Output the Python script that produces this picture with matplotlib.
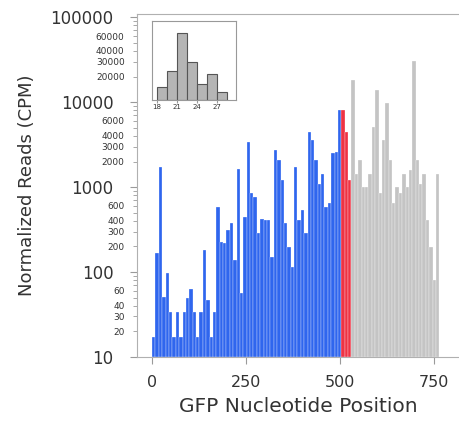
import matplotlib
matplotlib.use("Agg")
import matplotlib.pyplot as plt
import numpy as np
from matplotlib.ticker import LogLocator, FuncFormatter

# coverage along GFP, one value per 9-nt bin (CPM)
bin_nt = 9
blue_cpm = [17, 166, 1730, 51, 97, 34, 17, 34, 17, 34,
            49, 64, 34, 17, 34, 182, 47, 17, 34, 586,
            228, 218, 312, 374, 138, 1650, 56, 445, 3400, 845,
            770, 285, 426, 408, 408, 151, 2720, 2080, 1210, 374,
            198, 115, 1730, 408, 535, 285, 4460, 3560, 2080, 1100,
            1440, 586, 642, 2490, 2600, 8060]
red_cpm = [8060, 4460, 1200]
grey_cpm = [18200, 1440, 2080, 1010, 1010, 1440, 5120, 13900, 845, 3560,
            9660, 2080, 642, 1010, 845, 1440, 1010, 1580, 30900, 2080,
            1100, 1440, 408, 198, 80, 1440]

# inset: small RNA length distribution
inset_len = [18, 19.5, 21, 22.5, 24, 25.5, 27]
inset_cnt = [13, 29, 67, 38, 16, 26, 8]
inset_ticks = [18, 21, 24, 27]

txt = "#333333"
spine_c = "#9a9a9a"

fig = plt.figure(figsize=(4.6, 4.22), dpi=100)
ax = fig.add_axes([0.298, 0.154, 0.702, 0.812])

allv = blue_cpm + red_cpm + grey_cpm
cols = (["#2f66ee"] * len(blue_cpm) + ["#ee3344"] * len(red_cpm)
        + ["#c4c4c4"] * len(grey_cpm))
x = np.arange(len(allv)) * bin_nt
ax.bar(x, np.array(allv) - 10, bottom=10, width=bin_nt, align="edge",
       color=cols, edgecolor="white", linewidth=0.2)

ax.set_yscale("log")
ax.set_ylim(10, 108000)
ax.set_xlim(-40, 820)
ax.set_xticks([0, 250, 500, 750])

ax.yaxis.set_major_locator(LogLocator(base=10, numticks=10))
ax.yaxis.set_minor_locator(LogLocator(base=10, subs=[2, 3, 4, 5, 6, 7, 8, 9], numticks=10))
ax.yaxis.set_major_formatter(FuncFormatter(lambda v, p: "%d" % v))


def minor_fmt(v, p):
    m = round(v / 10 ** np.floor(np.log10(v) + 1e-9))
    return "%d" % round(v) if m in (2, 3, 4, 6) else ""


ax.yaxis.set_minor_formatter(FuncFormatter(minor_fmt))
ax.tick_params(axis="y", which="major", labelsize=12, colors=spine_c,
               labelcolor=txt, length=5, width=0.8, pad=12)
ax.tick_params(axis="y", which="minor", labelsize=6.5, colors=spine_c,
               labelcolor=txt, length=3, width=0.6, pad=6)
ax.tick_params(axis="x", labelsize=11.5, colors=spine_c, labelcolor=txt,
               length=5, width=0.8, pad=8)

for s in ax.spines.values():
    s.set_color("#b0b0b0")
    s.set_linewidth(0.8)
ax.spines["right"].set_visible(False)

ax.set_xlabel("GFP Nucleotide Position", fontsize=14.5, color=txt, labelpad=5)
ax.set_ylabel("Normalized Reads (CPM)", fontsize=13, color=txt, labelpad=10)

# inset
ins = fig.add_axes([0.330, 0.763, 0.183, 0.187])
ins.bar(inset_len, inset_cnt, width=1.5, align="edge", color="#b5b5b5",
        edgecolor="#555555", linewidth=0.8)
ins.set_xlim(17.25, 29.85)
ins.set_ylim(0, 79)
ins.set_xticks(inset_ticks)
ins.set_yticks([])
ins.tick_params(axis="x", labelsize=5, colors=spine_c, labelcolor=txt,
                length=2, pad=1)
for s in ins.spines.values():
    s.set_color("#999999")
    s.set_linewidth(0.8)

fig.savefig("out.png", dpi=100)
